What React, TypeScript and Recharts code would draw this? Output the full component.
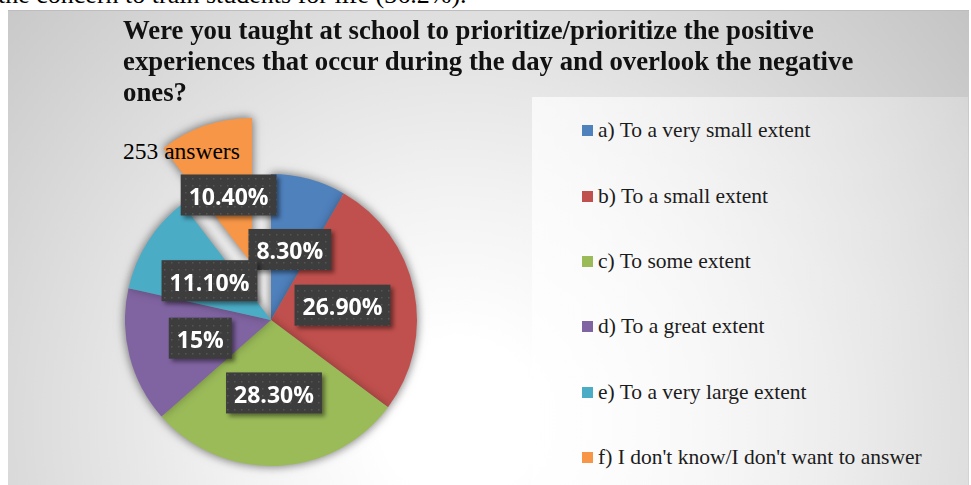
import * as React from 'react'
import { PieChart, Pie, Cell, Legend } from 'recharts'

const categories = [
  'a) To a very small extent',
  'b) To a small extent',
  'c) To some extent',
  'd) To a great extent',
  'e) To a very large extent',
  "f) I don't know/I don't want to answer",
]
const shares = [8.3, 26.9, 28.3, 15, 11.1, 10.4]
const shareLabels = ['8.30%', '26.90%', '28.30%', '15%', '11.10%', '10.40%']
const colors = ['#4f81bd', '#c0504d', '#9bbb59', '#8064a2', '#4bacc6', '#f79646']
const titleLines = [
  'Were you taught at school to prioritize/prioritize the positive',
  'experiences that occur during the day and overlook the negative',
  'ones?',
]

const data = categories.map((name, i) => ({ name, value: shares[i], label: shareLabels[i] }))

const CX = 271
const CY = 320
const R = 146
const EXPLODE_INDEX = 5
const EXPLODE_DIST = 59
const RAD = Math.PI / 180

// offset of the pulled-out slice, along its middle angle
const total = shares.reduce((a, b) => a + b, 0)
const before = shares.slice(0, EXPLODE_INDEX).reduce((a, b) => a + b, 0)
const midFromTop = ((before + shares[EXPLODE_INDEX] / 2) / total) * 360
const EX = EXPLODE_DIST * Math.sin(midFromTop * RAD)
const EY = -EXPLODE_DIST * Math.cos(midFromTop * RAD)

const LABEL_FONT = '700 23px "Open Sans"'
let ctx: CanvasRenderingContext2D | null = null
const textWidth = (t: string) => {
  if (!ctx) ctx = document.createElement('canvas').getContext('2d')
  if (!ctx) return t.length * 13
  ctx.font = LABEL_FONT
  return ctx.measureText(t).width
}

const renderLabel = (props: any) => {
  const { cx, cy, midAngle, outerRadius, index } = props
  const off = index === EXPLODE_INDEX ? { x: EX, y: EY } : { x: 0, y: 0 }
  const r = outerRadius * 0.5
  const x = cx + off.x + r * Math.cos(-midAngle * RAD)
  const y = cy + off.y + r * Math.sin(-midAngle * RAD)
  const text = shareLabels[index]
  const w = textWidth(text) + 16
  const h = 41
  return (
    <g key={`lbl-${index}`} style={{ filter: 'drop-shadow(3px 3px 2px rgba(0,0,0,0.45))' }}>
      {index === 0 && (
        <defs>
          <pattern id="dots" width="7" height="7" patternUnits="userSpaceOnUse">
            <rect width="7" height="7" fill="#3d3d3d" />
            <rect x="3" y="3" width="1.5" height="1.5" fill="#555555" />
          </pattern>
        </defs>
      )}
      <rect x={x - w / 2} y={y - h / 2} width={w} height={h} fill="url(#dots)" />
      <text
        x={x}
        y={y + 1}
        textAnchor="middle"
        dominantBaseline="central"
        fill="#ffffff"
        style={{ font: LABEL_FONT }}
      >
        {text}
      </text>
    </g>
  )
}

const LegendContent = () => (
  <div style={{ fontFamily: '"Liberation Serif", "Times New Roman", serif', fontSize: 21.5, color: '#1c1c1c' }}>
    {categories.map((c, i) => (
      <div key={c} style={{ display: 'flex', alignItems: 'center', height: 65.4 }}>
        <span style={{ width: 11, height: 11, background: colors[i], marginRight: 5, flexShrink: 0 }} />
        <span style={{ whiteSpace: 'nowrap' }}>{c}</span>
      </div>
    ))}
  </div>
)

export default function App() {
  const serif = '"Liberation Serif", "Times New Roman", serif'
  return (
    <div style={{ position: 'absolute', left: 0, top: 0, width: 971, height: 485, overflow: 'hidden', background: '#fff' }}>
      <style>{`.pie-shadow{filter:drop-shadow(0 0 5px rgba(0,0,0,0.3));}`}</style>
      <div
        style={{
          position: 'absolute', left: -2, top: -20, fontFamily: serif, fontSize: 26,
          color: '#000', whiteSpace: 'nowrap', lineHeight: '30px',
        }}
      >
        the concern to train students for life (36.2%).
      </div>
      <div
        style={{
          position: 'absolute', left: 8, top: 10, width: 961, height: 480,
          borderTop: '1px solid #bdbdbd',
          background: 'radial-gradient(circle farthest-corner at 47% 85%, #ffffff 0%, #ffffff 12%, #f2f2f2 35%, #c4c4c4 100%)',
        }}
      />
      <div
        style={{
          position: 'absolute', left: 532, top: 97, width: 436, height: 390,
          background: 'linear-gradient(to right, rgba(255,255,255,0.7), rgba(255,255,255,0.45) 50%, rgba(255,255,255,0.25))',
        }}
      />
      <div
        style={{
          position: 'absolute', left: 123, top: 15, fontFamily: serif, fontWeight: 700,
          fontSize: 26.5, lineHeight: '31px', color: '#111', whiteSpace: 'nowrap',
          transform: 'scaleX(1.01)', transformOrigin: 'left top',
        }}
      >
        {titleLines.map((l) => (
          <div key={l}>{l}</div>
        ))}
      </div>
      <div style={{ position: 'absolute', left: 0, top: 0 }}>
        <PieChart width={971} height={485} margin={{ top: 0, right: 0, bottom: 0, left: 0 }}>
          <Pie
            data={data}
            dataKey="value"
            nameKey="name"
            cx={CX + EX}
            cy={CY + EY}
            outerRadius={R}
            startAngle={90}
            endAngle={-270}
            stroke="none"
            className="pie-shadow"
            isAnimationActive={false}
            legendType="none"
          >
            {data.map((d, i) => (
              <Cell key={d.name} fill={i === EXPLODE_INDEX ? colors[i] : 'transparent'} />
            ))}
          </Pie>
          <Pie
            data={data}
            dataKey="value"
            nameKey="name"
            cx={CX}
            cy={CY}
            outerRadius={R}
            startAngle={90}
            endAngle={-270}
            stroke="none"
            className="pie-shadow"
            isAnimationActive={false}
          >
            {data.map((d, i) => (
              <Cell key={d.name} fill={i === EXPLODE_INDEX ? 'transparent' : colors[i]} />
            ))}
          </Pie>
          <Pie
            data={data}
            dataKey="value"
            nameKey="name"
            cx={CX}
            cy={CY}
            outerRadius={R}
            startAngle={90}
            endAngle={-270}
            stroke="none"
            fill="transparent"
            label={renderLabel}
            labelLine={false}
            isAnimationActive={false}
            legendType="none"
          >
            {data.map((d) => (
              <Cell key={d.name} fill="transparent" />
            ))}
          </Pie>
          <Legend
            layout="vertical"
            align="right"
            verticalAlign="top"
            content={<LegendContent />}
            wrapperStyle={{ left: 582, top: 98, width: 385 }}
          />
        </PieChart>
      </div>
      <div
        style={{
          position: 'absolute', left: 123, top: 138, fontFamily: serif, fontSize: 23.5,
          color: '#000', whiteSpace: 'nowrap', lineHeight: '26px',
        }}
      >
        253 answers
      </div>
    </div>
  )
}
